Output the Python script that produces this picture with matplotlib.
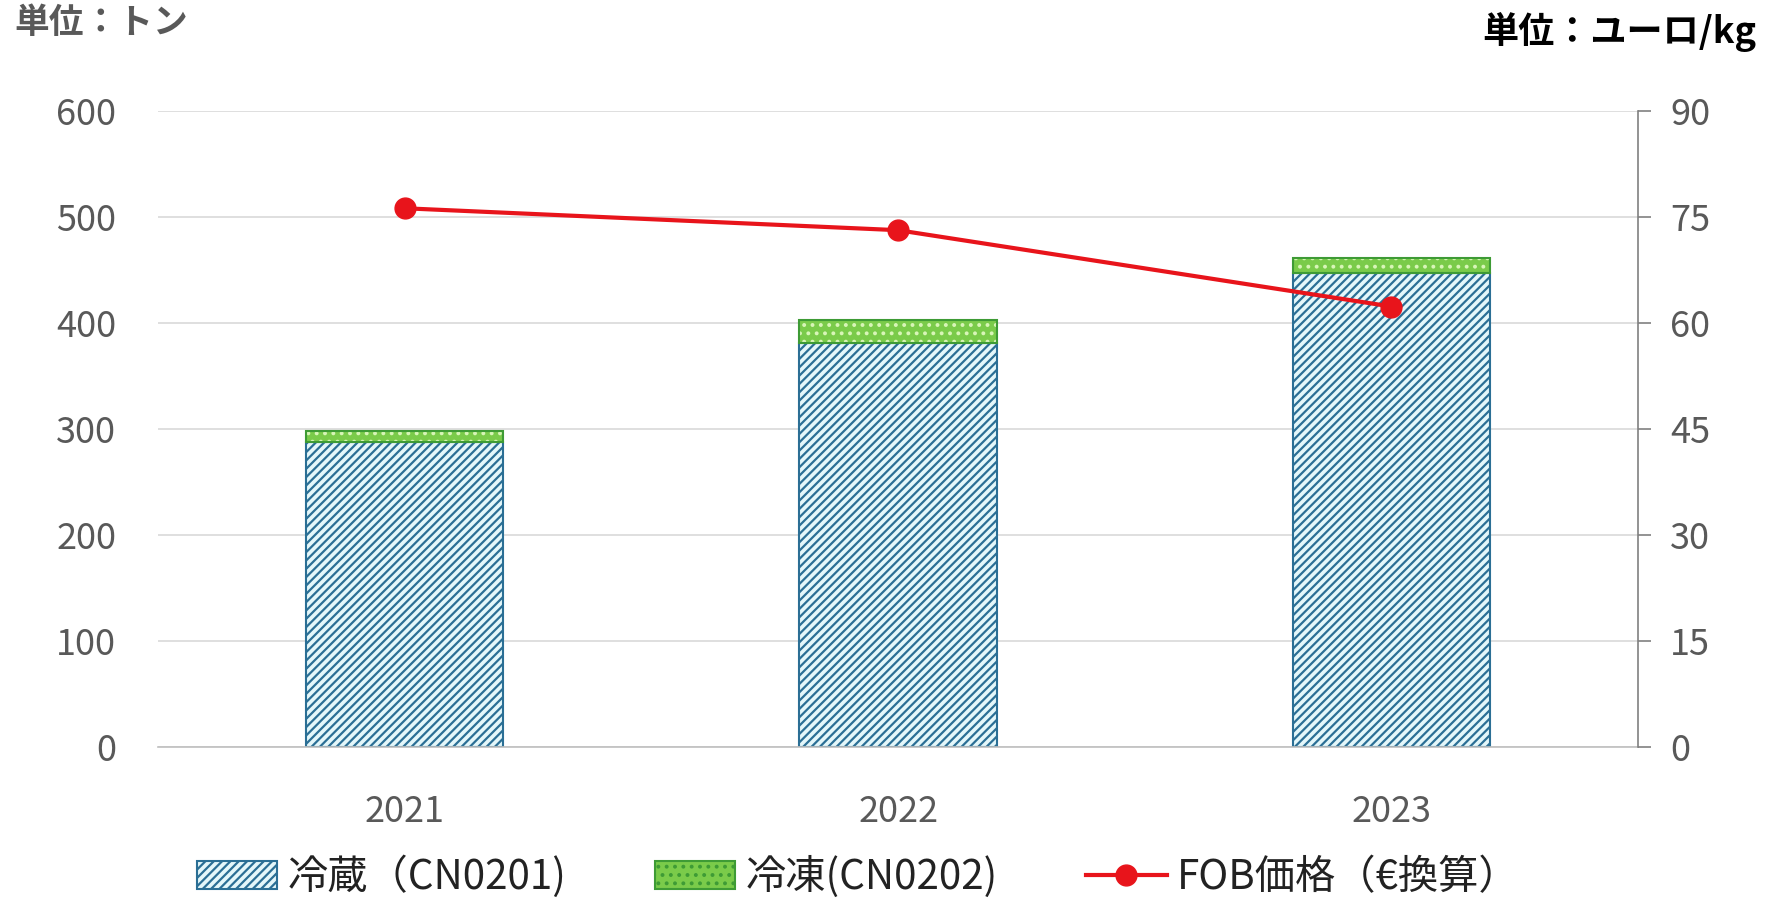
import matplotlib
matplotlib.use("Agg")
import matplotlib.pyplot as plt
from matplotlib.patches import Patch
from matplotlib.lines import Line2D

plt.rcParams['font.family'] = ['Noto Sans CJK JP', 'DejaVu Sans']
plt.rcParams['hatch.linewidth'] = 1.6

# data
years = ['2021', '2022', '2023']
chilled = [288, 381, 447]      # 冷蔵 (CN0201), tonnes
frozen = [10, 22, 14]          # 冷凍 (CN0202), tonnes
fob_price = [76.2, 73.1, 62.3]  # FOB価格, EUR/kg

left_ticks = [0, 100, 200, 300, 400, 500, 600]
right_ticks = [0, 15, 30, 45, 60, 75, 90]

grey = '#595959'
blue_edge = '#2B6F95'
blue_face = '#E4F7FA'
green_face = '#7ACB4A'
green_dots = '#D8F5B8'
green_edge = '#3E9B35'
red = '#E8141B'

fig = plt.figure(figsize=(17.69, 9), dpi=100)
ax = fig.add_axes([0.0893, 0.170, 0.8367, 0.707])
x = list(range(len(years)))
w = 0.4

ax.bar(x, chilled, w, color=blue_face, edgecolor=blue_edge, hatch='////', linewidth=1.5, zorder=2)
# green part: dotted fill, then a dark outline on top
ax.bar(x, frozen, w, bottom=chilled, color=green_face, edgecolor=green_dots, hatch='..',
       linewidth=0, zorder=2)
ax.bar(x, frozen, w, bottom=chilled, fill=False, edgecolor=green_edge, linewidth=1.5, zorder=3)

ax.set_xlim(-0.5, 2.5)
ax.set_ylim(0, 600)
ax.set_yticks(left_ticks)
ax.set_xticks(x)
ax.set_xticklabels(years)
ax.grid(axis='y', color='#D9D9D9', linewidth=1.2, zorder=0)
ax.set_axisbelow(True)
for s in ['left', 'top', 'right']:
    ax.spines[s].set_visible(False)
ax.spines['bottom'].set_color('#BFBFBF')
ax.spines['bottom'].set_linewidth(1.2)
ax.tick_params(axis='y', length=0, labelsize=26, labelcolor=grey, pad=30)
ax.tick_params(axis='x', length=0, labelsize=26, labelcolor=grey, pad=34)

ax2 = ax.twinx()
ax2.plot(x, fob_price, color=red, linewidth=3, marker='o', markersize=15, zorder=5)
ax2.set_ylim(0, 90)
ax2.set_yticks(right_ticks)
for s in ['left', 'top', 'bottom']:
    ax2.spines[s].set_visible(False)
ax2.spines['right'].set_color('#808080')
ax2.spines['right'].set_linewidth(1.2)
ax2.tick_params(axis='y', direction='out', length=9, width=1.2, color='#808080',
                labelsize=26, labelcolor=grey, pad=14)

fig.text(0.008, 0.975, '単位：トン', fontsize=25, fontweight='bold', color=grey, va='center')
fig.text(0.993, 0.965, '単位：ユーロ/kg', fontsize=26, fontweight='bold', color='black',
         va='center', ha='right')

handles = [
    Patch(facecolor=blue_face, edgecolor=blue_edge, hatch='////', linewidth=1.5),
    Patch(facecolor=green_face, edgecolor=green_edge, hatch='..', linewidth=1.5),
    Line2D([], [], color=red, linewidth=3, marker='o', markersize=15),
]
labels = ['冷蔵（CN0201)', '冷凍(CN0202)', 'FOB価格（€換算）']
fig.legend(handles, labels, loc='center', bbox_to_anchor=(0.485, 0.026), ncol=3,
           frameon=False, fontsize=29, handlelength=2.0, handleheight=0.7,
           handletextpad=0.25, columnspacing=2.2, labelcolor='#222222')

fig.savefig('out.png', dpi=100)
